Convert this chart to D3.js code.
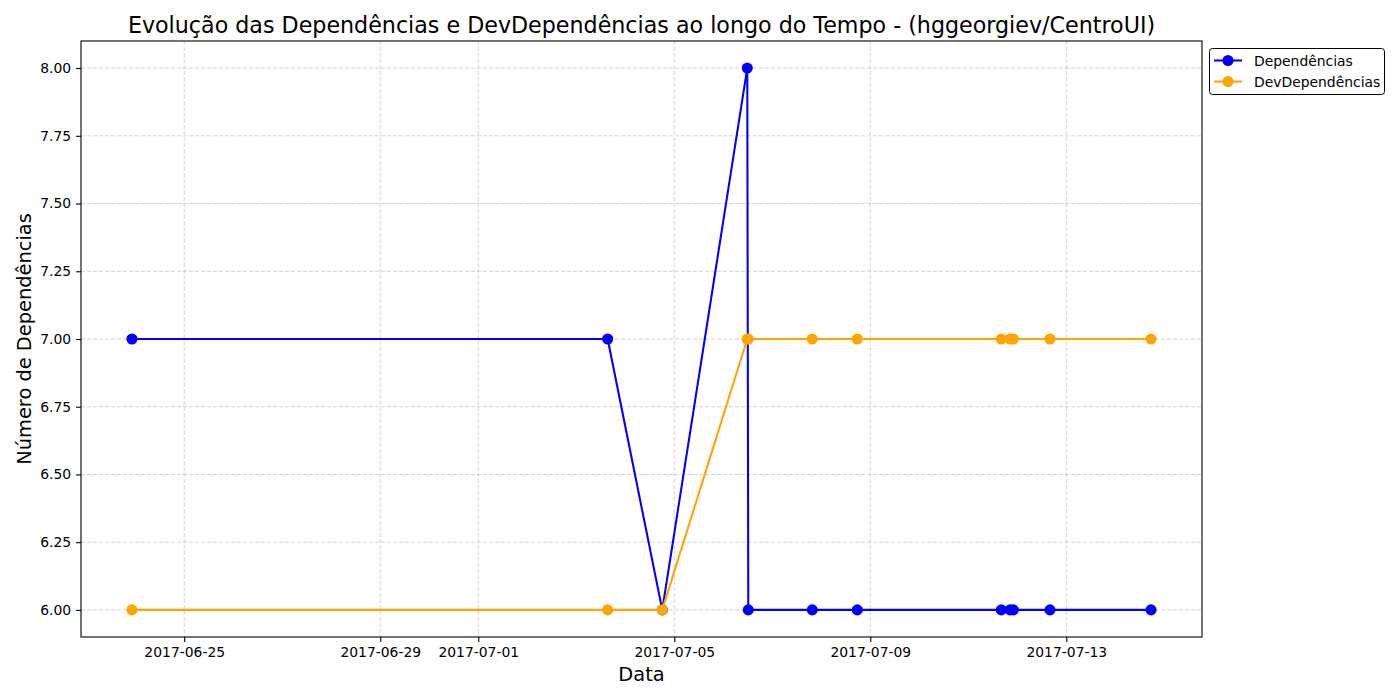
<!DOCTYPE html>
<html><head><meta charset="utf-8">
<script src="https://cdn.jsdelivr.net/npm/d3@7"></script>
<style>
html,body{margin:0;padding:0;background:#fff;}
svg{display:block;font-family:"DejaVu Sans",sans-serif;}
</style></head>
<body>
<svg id="chart" width="1400" height="700"></svg>
<script>
const dates = ["2017-06-23T22:24","2017-07-03T15:23","2017-07-04T18:07","2017-07-06T11:45","2017-07-06T12:15","2017-07-07T19:35","2017-07-08T17:38","2017-07-11T16:09","2017-07-11T20:25","2017-07-11T22:04","2017-07-12T16:00","2017-07-14T17:30"];
const dependencias = [7,7,6,8,6,6,6,6,6,6,6,6];
const devDependencias = [6,6,6,7,7,7,7,7,7,7,7,7];
const xTickLabels = ["2017-06-25","2017-06-29","2017-07-01","2017-07-05","2017-07-09","2017-07-13"];
const yTicks = [6.00,6.25,6.50,6.75,7.00,7.25,7.50,7.75,8.00];
const seriesNames = ["Dependências","DevDependências"];
const seriesColors = ["#0000ff","#ffa500"];
const titleText = "Evolução das Dependências e DevDependências ao longo do Tempo - (hggeorgiev/CentroUI)";
const xLabelText = "Data";
const yLabelText = "Número de Dependências";

const parseT = d3.utcParse("%Y-%m-%dT%H:%M");
const parseD = d3.utcParse("%Y-%m-%d");
const xs = dates.map(parseT);
const xTicks = xTickLabels.map(parseD);

const svg = d3.select("#chart");
const L = 81, R = 1202, T = 41, B = 637;

const ext = d3.extent(xs);
const span = ext[1] - ext[0];
const x = d3.scaleUtc().domain([new Date(+ext[0] - span*0.05), new Date(+ext[1] + span*0.05)]).range([L, R]);
const allY = dependencias.concat(devDependencias);
const yExt = d3.extent(allY);
const ySpan = yExt[1]-yExt[0];
const y = d3.scaleLinear().domain([yExt[0]-ySpan*0.05, yExt[1]+ySpan*0.05]).range([B, T]);

// grid
const grid = svg.append("g");
grid.selectAll("line.gx").data(xTicks).enter().append("line")
  .attr("x1", d=>x(d)).attr("x2", d=>x(d)).attr("y1", T).attr("y2", B)
  .attr("stroke","#b0b0b0").attr("stroke-opacity",0.7).attr("stroke-width",0.8)
  .attr("stroke-dasharray","4,2");
grid.selectAll("line.gy").data(yTicks).enter().append("line")
  .attr("x1", L).attr("x2", R).attr("y1", d=>y(d)).attr("y2", d=>y(d))
  .attr("stroke","#b0b0b0").attr("stroke-opacity",0.7).attr("stroke-width",0.8)
  .attr("stroke-dasharray","4,2");

// series
const series = [dependencias, devDependencias];
const line = d3.line().x((d,i)=>x(xs[i])).y(d=>y(d));
series.forEach((vals, si) => {
  const g = svg.append("g");
  g.append("path").datum(vals).attr("d", line).attr("fill","none")
    .attr("stroke", seriesColors[si]).attr("stroke-width",2.08).attr("stroke-linejoin","round");
  g.selectAll("circle").data(vals).enter().append("circle")
    .attr("cx",(d,i)=>x(xs[i])).attr("cy",d=>y(d)).attr("r",5.55)
    .attr("fill",seriesColors[si]);
});

// axes
const xAxis = d3.axisBottom(x).tickValues(xTicks).tickFormat(d3.utcFormat("%Y-%m-%d")).tickSize(4.9).tickPadding(4.9);
const gx = svg.append("g").attr("transform",`translate(0,${B})`).call(xAxis);
gx.select(".domain").remove();
gx.selectAll("line").attr("stroke","#000").attr("stroke-width",1.1);
gx.selectAll("text").attr("font-size","13.9px").attr("fill","#000").attr("font-family","DejaVu Sans");

const yAxis = d3.axisLeft(y).tickValues(yTicks).tickFormat(d3.format(".2f")).tickSize(4.9).tickPadding(4.9);
const gy = svg.append("g").attr("transform",`translate(${L},0)`).call(yAxis);
gy.select(".domain").remove();
gy.selectAll("line").attr("stroke","#000").attr("stroke-width",1.1);
gy.selectAll("text").attr("font-size","13.9px").attr("fill","#000").attr("font-family","DejaVu Sans");

// frame
svg.append("rect").attr("x",L).attr("y",T).attr("width",R-L).attr("height",B-T)
  .attr("fill","none").attr("stroke","#000").attr("stroke-width",1.1);

// title & labels
svg.append("text").attr("x",(L+R)/2).attr("y",32.5).attr("text-anchor","middle")
  .attr("font-size","22.2px").attr("fill","#000").text(titleText);
svg.append("text").attr("x",(L+R)/2).attr("y",681).attr("text-anchor","middle")
  .attr("font-size","19.4px").attr("fill","#000").text(xLabelText);
svg.append("text").attr("transform",`translate(31,${(T+B)/2}) rotate(-90)`).attr("text-anchor","middle")
  .attr("font-size","19.4px").attr("fill","#000").text(yLabelText);

// legend
const lg = svg.append("g");
lg.append("rect").attr("x",1209.5).attr("y",48.5).attr("width",175).attr("height",46).attr("rx",3)
  .attr("fill","#fff").attr("fill-opacity",0.8).attr("stroke","#000").attr("stroke-width",1);
seriesNames.forEach((n,i)=>{
  const yy = 60.5 + i*21;
  lg.append("line").attr("x1",1214).attr("x2",1242).attr("y1",yy).attr("y2",yy)
    .attr("stroke",seriesColors[i]).attr("stroke-width",2.08);
  lg.append("circle").attr("cx",1228).attr("cy",yy).attr("r",5.55).attr("fill",seriesColors[i]);
  lg.append("text").attr("x",1254).attr("y",yy).attr("dy","0.36em").attr("font-size","13.9px")
    .attr("fill","#000").text(n);
});
</script>
</body></html>
